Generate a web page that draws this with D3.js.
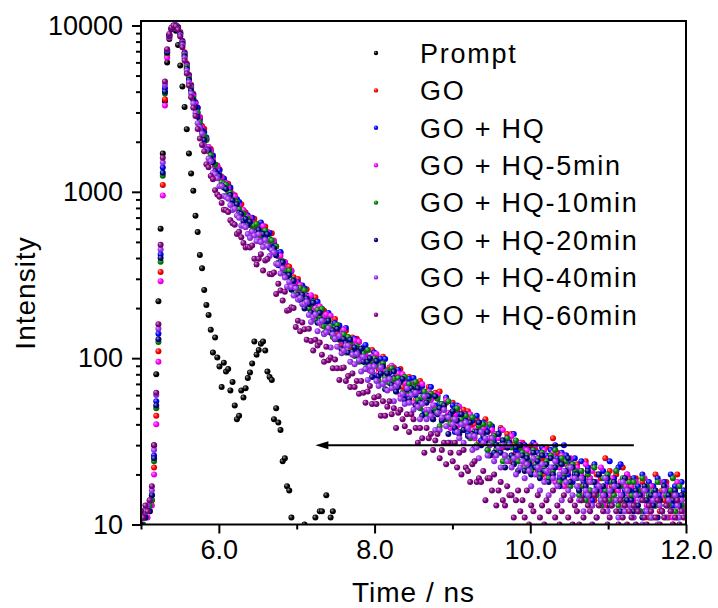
<!DOCTYPE html>
<html>
<head>
<meta charset="utf-8">
<script src="https://cdn.jsdelivr.net/npm/d3@7"></script>
<style>
body { margin: 0; background: #fff; }
text { font-family: "Liberation Sans", Arial, sans-serif; fill: #000; }
</style>
</head>
<body>
<svg id="chart" width="718" height="608"></svg>
<script>
// TCSPC channel grid (ns)
var startTime = 5.0, channelWidth = 0.028;

var seriesNames = ['Prompt', 'GO', 'GO + HQ', 'GO + HQ-5min', 'GO + HQ-10min', 'GO + HQ-20min', 'GO + HQ-40min', 'GO + HQ-60min'];
var seriesColors = ['#000000', '#ff0000', '#0000ff', '#ff00ff', '#008000', '#000080', '#9a30f0', '#800080'];

var xTicksMajor = [6, 8, 10, 12];
var xTicksMinor = [5, 7, 9, 11];
var yTicksMajor = [10, 100, 1000, 10000];

var promptCounts = [6,5,7,6,8, 9,30,80,220,600, 1700,3500,6000,8300,9500, 9900,9300,7640,5750,4300, 3240,2380,1700,1290,1015,
    718,573,417,347,257, 209,182,148,108,133, 101,89,67,94,83, 86,64,72,52,43, 45,64,58,66,76,
    82,93,126,105,112, 122,126,111,83,77, 74,43,50,41,37, 24,25,17,16,11, 8,9,7,8,9,
    10,8,7,9,8, 11,9,12,12,8, 15,9,11,12,8, 7];

var goCounts = [10,11,12,12,13,14,22,45,110,330,1100,3600,6600,8600,9600,9950,10000,9800,9150,8100,6900,5900,5050,4400,3880,
    3329,3188,2808,2487,2397,2056,1851,1809,1626,1433,1440,1366,1228,1202,1103,1117,1030,938,952,896,821,842,762,750,703,
    694,622,690,617,563,631,599,619,544,503,563,474,469,410,430,382,333,360,355,303,306,270,299,258,266,
    230,260,226,195,220,232,184,196,179,193,153,177,149,161,172,143,154,121,141,146,127,117,133,109,131,
    125,114,96,112,99,85,112,96,103,86,94,102,78,82,88,70,88,78,71,86,67,74,60,77,65,
    64,56,69,73,55,61,55,67,46,59,62,50,63,43,50,54,46,41,54,45,48,36,44,49,38,
    48,38,36,40,43,31,40,36,43,31,33,38,35,28,35,38,29,30,35,24,35,30,27,24,31,
    31,24,29,22,30,23,28,21,27,25,20,29,21,26,33,25,27,18,24,20,26,17,23,22,19,
    23,17,21,15,24,18,16,22,14,20,17,19,15,25,13,21,17,16,20,14,18,22,13,17,19,
    17,13,19,15,12,18,14,16,11,17,13,20,15,12,16,14,18,11,15,13,17,20,13,14,16];

var hqCounts = [11,12,11,13,12,15,26,55,140,420,1400,4200,7000,8800,9600,9950,10000,9750,9050,8000,6800,5800,4980,4320,3820,
    3461,3199,2723,2423,2279,2118,1818,1759,1656,1459,1386,1347,1174,1197,1126,1047,1062,941,917,902,869,767,768,709,721,
    645,699,630,572,626,655,561,584,547,566,465,496,424,429,434,370,377,311,335,333,295,270,286,244,273,
    262,239,203,228,202,177,218,188,197,166,177,187,147,154,162,132,157,141,129,152,120,130,107,131,113,
    110,98,116,120,94,101,93,108,79,95,99,83,99,73,82,88,76,70,85,72,76,60,71,75,61,
    76,60,55,63,68,48,62,56,67,48,52,59,53,43,53,58,44,46,52,36,52,46,40,37,46,
    35,44,42,36,45,37,32,41,37,28,38,39,32,34,30,37,32,26,33,31,26,35,28,31,28,
    26,30,23,28,22,31,24,27,21,29,23,26,20,28,22,30,25,19,27,30,26,20,24,18,25,
    21,16,24,18,15,22,19,14,23,17,20,16,21,15,18,24,14,19,17,22,23,18,16,20,15,
    16,19,13,17,15,20,12,16,18,14,17,13,19,15,12,18,16,14,20,13,17,15,12,18,16];

var hq5Counts = [10,11,12,11,12,13,20,40,95,290,950,3300,6400,8450,9500,9900,10000,9700,9000,7900,6700,5700,4900,4250,3760,
    3394,2926,2816,2438,2136,2068,1862,1760,1548,1414,1432,1272,1229,1124,1129,1044,952,969,938,846,828,758,777,704,703,
    697,649,578,629,580,535,623,561,575,503,508,509,415,412,412,345,377,340,311,337,279,288,245,275,242,
    233,208,234,239,192,201,184,205,157,179,183,156,180,137,150,155,137,126,148,129,132,108,122,128,107,
    126,103,97,105,112,84,102,93,106,81,85,93,85,72,84,90,71,73,81,60,80,71,64,60,70,
    54,70,64,56,70,56,49,63,56,43,58,60,48,52,44,56,47,38,48,46,39,51,40,46,40,
    43,46,37,33,38,41,30,38,40,31,33,37,26,35,33,29,37,26,29,32,34,24,29,24,31,
    29,23,28,21,27,24,30,20,26,22,28,19,25,21,27,18,24,22,26,17,23,21,25,19,22,
    22,16,20,17,23,14,19,21,15,18,16,22,13,17,20,15,19,14,21,16,18,13,17,20,15,
    17,14,18,12,16,15,19,13,14,17,11,16,14,18,12,15,17,13,16,11,14,18,12,15,13];

var hq10Counts = [11,10,11,12,13,14,24,50,125,380,1250,3900,6800,8650,9550,9950,10000,9700,8950,7800,6600,5600,4800,4150,3650,
    3182,3012,2612,2290,2180,2050,1752,1662,1510,1455,1265,1262,1139,1119,1103,1000,985,877,887,863,789,736,741,667,692,
    631,582,628,640,551,574,545,586,484,520,510,440,469,374,383,381,337,310,336,296,294,249,264,265,230,
    256,213,199,211,218,170,195,178,198,155,159,170,156,134,152,158,129,130,139,108,134,123,110,103,118,
    95,114,107,94,112,93,83,100,90,73,91,93,77,83,71,87,75,63,76,72,62,77,64,70,62,
    67,72,56,50,58,63,46,57,61,47,50,57,39,53,49,43,55,40,43,49,50,36,43,37,45,
    41,33,44,36,30,39,36,40,31,28,40,31,34,28,35,30,24,31,33,25,29,23,32,24,29,
    27,22,26,24,21,28,23,25,20,27,22,24,19,26,21,28,23,18,25,20,24,22,17,23,21,
    19,15,21,17,14,20,16,18,22,15,17,13,19,16,20,14,18,15,21,13,17,19,14,16,18,
    15,18,13,16,12,19,14,17,15,11,16,13,18,14,12,17,15,13,16,19,12,14,17,13,15];

var hq20Counts = [10,11,11,12,12,15,25,52,130,400,1300,4000,6900,8700,9550,9950,10000,9650,8900,7750,6500,5500,4700,4050,3560,
    3238,2830,2441,2331,2046,1805,1792,1580,1502,1331,1281,1243,1092,1063,1041,936,956,888,828,841,745,736,665,686,632,
    661,578,550,573,590,501,557,521,556,461,453,458,415,362,377,377,316,310,316,258,291,265,240,224,240,
    199,228,212,188,215,181,163,187,169,141,166,168,142,147,130,150,131,113,130,123,108,129,109,116,105,
    109,114,95,86,95,100,77,91,96,78,81,89,65,81,76,69,83,63,67,73,75,56,65,57,66,
    63,52,66,54,45,59,54,59,47,43,59,46,50,42,52,44,35,46,48,38,42,35,46,37,42,
    34,41,35,29,36,41,30,34,32,36,26,33,27,30,35,27,32,22,29,31,26,23,29,21,30,
    26,21,25,23,20,27,22,24,19,26,21,23,18,25,20,22,24,17,23,19,21,25,18,22,20,
    20,16,14,19,17,21,15,13,18,16,20,14,17,15,19,13,16,18,14,17,12,15,19,14,16,
    14,12,16,13,15,11,17,14,12,15,13,16,11,14,12,17,13,15,12,14,16,11,13,15,12];

var hq40Counts = [11,12,12,13,14,16,28,60,150,450,1500,4400,7100,8800,9650,10000,9950,9550,8750,7600,6350,5350,4550,3900,3400,
    2979,2587,2440,2240,1903,1777,1587,1527,1299,1273,1205,1079,1083,943,930,907,832,778,790,720,698,625,625,612,557,
    528,577,546,505,556,499,466,513,474,411,446,432,370,367,323,347,305,269,287,268,238,263,225,230,211,
    212,218,182,165,177,183,145,164,168,139,143,152,116,139,131,117,136,107,111,119,119,95,105,92,106,
    97,83,102,86,74,89,83,89,73,68,88,70,74,64,75,66,55,68,71,57,61,53,66,54,60,
    49,62,51,43,53,59,43,49,45,52,37,47,37,44,49,39,44,31,40,43,36,33,40,31,41,
    38,34,28,34,29,25,36,31,33,26,30,33,24,26,29,22,30,26,24,30,22,25,20,26,22,
    24,19,23,21,17,25,20,22,16,23,18,21,15,22,19,24,17,20,14,21,18,16,22,15,19,
    17,14,19,12,16,15,18,13,16,11,17,14,15,19,12,16,13,17,14,11,15,18,12,16,13,
    13,11,15,12,14,10,16,12,13,11,14,15,10,13,12,16,11,14,12,10,15,13,11,14,12];

var hq60Counts = [12,11,13,12,14,17,30,62,160,480,1600,4600,7200,8900,9700,10000,9900,9450,8600,7400,6150,5150,4350,3700,3200,
    2857,2386,2089,1913,1754,1466,1405,1246,1192,1021,965,933,858,780,776,755,674,647,635,557,575,533,493,463,468,
    462,476,396,366,396,421,336,387,394,321,319,327,243,280,255,222,251,193,195,202,200,154,168,145,164,
    149,129,150,127,111,129,119,124,105,95,117,97,101,87,98,87,74,87,88,73,78,67,81,67,73,
    61,73,62,54,63,68,53,58,53,59,45,55,45,51,55,46,50,38,47,49,43,39,46,36,46,
    43,38,31,38,33,27,38,33,35,28,32,35,25,28,31,23,31,27,24,31,22,27,20,28,22,
    21,18,23,24,18,19,18,21,14,19,19,16,20,13,16,18,14,13,17,15,15,11,14,16,12,
    14,11,16,10,13,12,9,15,11,13,10,14,12,9,16,11,13,10,12,15,9,11,14,10,13,
    12,10,14,11,9,13,12,10,15,11,13,9,12,14,10,11,13,9,12,10,14,11,13,10,12,
    11,13,10,12,9,14,11,10,13,12,9,11,14,10,12,11,13,9,12,10,11,14,10,12,11];

var seriesCounts = [promptCounts, goCounts, hqCounts, hq5Counts, hq10Counts, hq20Counts, hq40Counts, hq60Counts];

function drawChart() {
    var svg = d3.select('#chart');
    var plotLeft = 141, plotRight = 686, plotTop = 21, plotBottom = 524.5;

    var x = d3.scaleLinear().domain([5, 12]).range([plotLeft, plotRight]);
    var y = d3.scaleLog().domain([10, 10640]).range([plotBottom, plotTop]);

    var defs = svg.append('defs');
    defs.append('clipPath').attr('id', 'plot-clip')
        .append('rect').attr('x', plotLeft).attr('y', plotTop)
        .attr('width', plotRight - plotLeft).attr('height', plotBottom - plotTop);

    // shaded "ball" look of the markers
    seriesColors.forEach(function(c, k) {
        var g = defs.append('radialGradient').attr('id', 'ball' + k)
            .attr('cx', '45%').attr('cy', '45%').attr('r', '60%').attr('fx', '32%').attr('fy', '30%');
        g.append('stop').attr('offset', '0%').attr('stop-color', d3.interpolateRgb(c, '#ffffff')(0.6));
        g.append('stop').attr('offset', '55%').attr('stop-color', c);
        g.append('stop').attr('offset', '100%').attr('stop-color', d3.color(c).darker(0.8));
    });

    var plot = svg.append('g').attr('clip-path', 'url(#plot-clip)');
    seriesCounts.forEach(function(counts, k) {
        var pts = counts.map(function(v, i) { return { t: startTime + i * channelWidth, v: v }; })
            .filter(function(d) { return d.v > 0 && d.t <= 12.01; });
        plot.append('g').selectAll('circle').data(pts).enter().append('circle')
            .attr('cx', function(d) { return x(d.t); })
            .attr('cy', function(d) { return y(d.v); })
            .attr('r', 3)
            .attr('fill', 'url(#ball' + k + ')');
    });

    // arrow pointing to the prompt
    var arrowY = y(30);
    svg.append('line')
        .attr('x1', x(11.33)).attr('x2', x(7.24) + 8)
        .attr('y1', arrowY).attr('y2', arrowY)
        .attr('stroke', '#000').attr('stroke-width', 2);
    svg.append('path')
        .attr('d', 'M' + x(7.24) + ',' + arrowY + 'l13,-4l0,8z')
        .attr('fill', '#000');

    function styleAxis(g) {
        g.select('.domain').remove();
        g.selectAll('line').attr('stroke', '#000').attr('stroke-width', 2);
        g.selectAll('text').attr('fill', '#000')
            .style('font-family', '"Liberation Sans", Arial, sans-serif').style('font-size', '27px');
    }

    svg.append('g').attr('transform', 'translate(0,' + plotBottom + ')')
        .call(d3.axisBottom(x).tickValues(xTicksMinor).tickSize(5).tickFormat(''))
        .call(styleAxis);
    svg.append('g').attr('transform', 'translate(0,' + plotBottom + ')')
        .call(d3.axisBottom(x).tickValues(xTicksMajor).tickSize(9).tickPadding(6).tickFormat(d3.format('.1f')))
        .call(styleAxis);

    var yMinor = [];
    [10, 100, 1000].forEach(function(dec) {
        for (var m = 2; m <= 9; m++) yMinor.push(dec * m);
    });
    svg.append('g').attr('transform', 'translate(' + plotLeft + ',0)')
        .call(d3.axisLeft(y).tickValues(yMinor).tickSize(5).tickFormat(''))
        .call(styleAxis);
    svg.append('g').attr('transform', 'translate(' + plotLeft + ',0)')
        .call(d3.axisLeft(y).tickValues(yTicksMajor).tickSize(9).tickPadding(9).tickFormat(d3.format('d')))
        .call(styleAxis);

    svg.append('rect')
        .attr('x', plotLeft).attr('y', plotTop)
        .attr('width', plotRight - plotLeft).attr('height', plotBottom - plotTop)
        .attr('fill', 'none').attr('stroke', '#000').attr('stroke-width', 2);

    svg.append('text')
        .attr('x', (plotLeft + plotRight) / 2).attr('y', 602)
        .attr('text-anchor', 'middle')
        .style('font-size', '28px').style('letter-spacing', '1px')
        .text('Time / ns');

    svg.append('text')
        .attr('transform', 'translate(35,293) rotate(-90)')
        .attr('text-anchor', 'middle')
        .style('font-size', '28px').style('letter-spacing', '1px')
        .text('Intensity');

    var legend = svg.append('g');
    var rows = legend.selectAll('g').data(seriesNames).enter().append('g')
        .attr('transform', function(d, i) { return 'translate(376,' + (53 + i * 37.4) + ')'; });
    rows.append('circle').attr('r', 2.2)
        .attr('fill', function(d, i) { return 'url(#ball' + i + ')'; });
    rows.append('text')
        .attr('x', 44).attr('y', 9.7)
        .style('font-size', '27px').style('letter-spacing', '1.75px')
        .text(function(d) { return d; });
}

drawChart();
</script>
</body>
</html>
